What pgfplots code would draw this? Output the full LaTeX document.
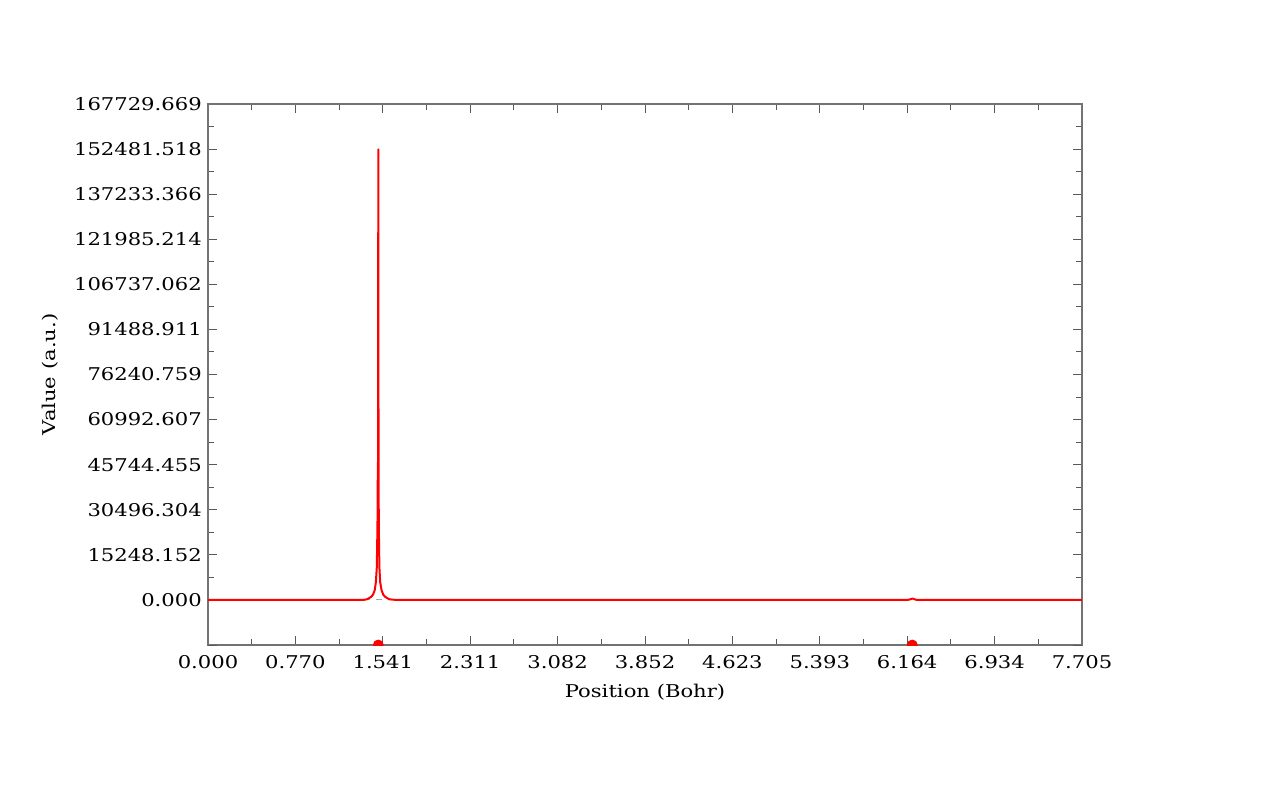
\documentclass[border=0pt]{standalone}
\usepackage{fontspec}
\setmainfont{DejaVu Serif}[FakeStretch=1.2]
\usepackage{pgfplots}
\pgfplotsset{compat=1.18}
\begin{document}
\fontsize{8.8pt}{10pt}\selectfont
\begin{tikzpicture}
\path[use as bounding box] (0,0) rectangle (640pt,400pt);
\begin{axis}[
  at={(104pt,77.5pt)}, anchor=south west,
  scale only axis, width=437pt, height=270.5pt,
  xmin=0, xmax=7.705, ymin=-15248.152, ymax=167729.669,
  scaled ticks=false,
  /pgf/number format/assume math mode=true,
  xtick={0,0.7705,1.541,2.3115,3.082,3.8525,4.623,5.3935,6.164,6.9345,7.705},
  xticklabels={0.000,0.770,1.541,2.311,3.082,3.852,4.623,5.393,6.164,6.934,7.705},
  ytick={0,15248.152,30496.304,45744.455,60992.607,76240.759,91488.911,106737.062,121985.214,137233.366,152481.518,167729.669},
  yticklabels={0.000,15248.152,30496.304,45744.455,60992.607,76240.759,91488.911,106737.062,121985.214,137233.366,152481.518,167729.669},
  extra y ticks={-15248.152}, extra y tick labels={},
  minor tick num=1,
  tick align=inside,
  major tick length=4.5pt, minor tick length=3pt,
  axis line style={draw=black!55, line width=0.6pt},
  every tick/.style={draw=black!65, line width=0.5pt},
  tick label style={font=\fontsize{8.8pt}{10pt}\selectfont, text=black},
  xlabel={Position (Bohr)}, ylabel={Value (a.u.)},
  label style={font=\fontsize{8.8pt}{10pt}\selectfont},
  xlabel style={yshift=-1.5pt},
  ylabel style={yshift=2pt},
  xticklabel style={yshift=-2pt},
  clip=true, clip marker paths=true,
]
\addplot[gray!70, dashed, line width=0.5pt] coordinates {(0,0) (7.705,0)};
\addplot[red, line width=1pt, line join=round] coordinates {
(0,0) (1.3600,0) (1.3800,60) (1.4000,200) (1.4200,600) (1.4400,1100) (1.4550,1800)
(1.4700,3300) (1.4800,6000) (1.4880,11000) (1.4940,25000) (1.4970,44000) (1.4990,47000)
(1.5005,100000) (1.5013,152400) (1.5020,114000) (1.5035,45000) (1.5060,25000) (1.5110,11000)
(1.5180,6000) (1.5300,3300) (1.5450,1800) (1.5600,1100) (1.5800,600) (1.6000,200)
(1.6400,60) (1.6600,0)
(6.170,0) (6.190,200) (6.205,400) (6.215,400) (6.230,200) (6.250,0) (7.705,0)
};
\addplot[only marks, mark=*, mark size=2.5pt, red] coordinates {(1.5013,-15248.152) (6.209,-15248.152)};
\end{axis}
\end{tikzpicture}
\end{document}
